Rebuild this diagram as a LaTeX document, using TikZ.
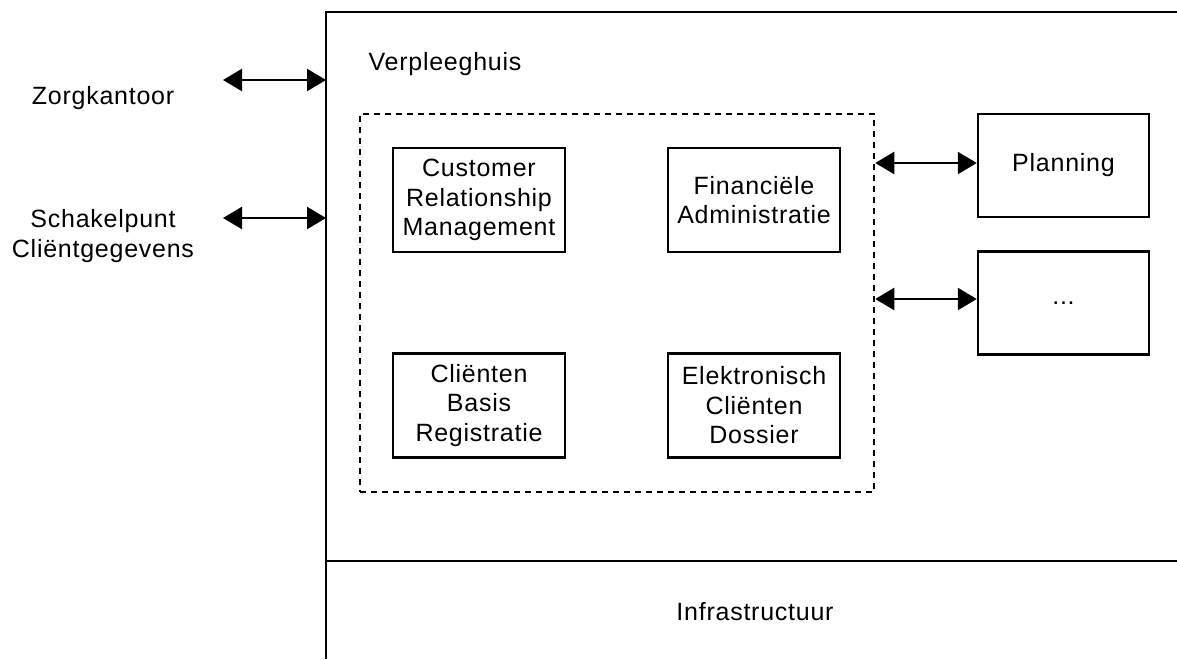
\documentclass[tikz,border=0pt]{standalone}
\usepackage{fontspec}
\setmainfont{Liberation Sans}[LetterSpace=3]
\usetikzlibrary{arrows.meta}

\tikzset{
  txt/.style={font=\fontsize{25}{29.5}\selectfont},
  lbl/.style={txt, align=center, inner sep=0pt},
  module/.style={txt, draw, line width=2.5pt, minimum width=172pt, minimum height=104pt,
                 align=center, inner sep=0pt},
  extbox/.style={txt, draw, line width=2.5pt, minimum width=171pt, minimum height=103pt,
                 align=center, inner sep=0pt},
  frame/.style={line width=2.5pt},
  group/.style={draw, line width=2.5pt, dash pattern=on 6pt off 5pt},
  link/.style={line width=2.5pt, {Triangle[length=19pt,width=22pt]}-{Triangle[length=19pt,width=22pt]}}
}

\begin{document}
\begin{tikzpicture}[x=1pt, y=-1pt]
  \useasboundingbox (0,0) rectangle (1177,659);

  % outer frame of the nursing home and the infrastructure layer
  \coordinate (ftl) at (326,12);
  \coordinate (ftr) at (1177,12);
  \coordinate (fbl) at (326,659);
  \coordinate (ml)  at (326,561);
  \coordinate (mr)  at (1177,561);
  \draw[frame] (ftr) -- (ftl) -- (fbl);
  \draw[frame] (ml) -- (mr);

  \node[lbl] (vh) at (445,64) {Verpleeghuis};
  \node[lbl] (infra) at (755,612) {Infrastructuur};

  % dashed group of core applications
  \node[group, minimum width=514pt, minimum height=378pt, inner sep=0pt] (grp) at (617,303) {};

  \node[module] (crm) at (479,200) {Customer\\Relationship\\Management};
  \node[module] (fin) at (754,200) {Financiële\\Administratie};
  \node[module] (cbr) at (479,405.5) {Cliënten\\Basis\\Registratie};
  \node[module] (ecd) at (754,405.5) {Elektronisch\\Cliënten\\Dossier};

  % external systems
  \node[extbox] (plan) at (1063.5,165.5) {Planning};
  \node[extbox] (more) at (1063.5,303) {...};

  \draw[link] (grp.east |- 0,163) -- (plan.west |- 0,163);
  \draw[link] (grp.east |- 0,299) -- (more.west |- 0,299);

  % outside parties
  \node[lbl] (zk) at (103,98) {Zorgkantoor};
  \node[lbl] (sp) at (103,236) {Schakelpunt\\Cliëntgegevens};

  \coordinate (zkL) at (223,80);
  \coordinate (zkR) at (326,80);
  \coordinate (spL) at (223,218);
  \coordinate (spR) at (326,218);
  \draw[link] (zkL) -- (zkR);
  \draw[link] (spL) -- (spR);
\end{tikzpicture}
\end{document}
